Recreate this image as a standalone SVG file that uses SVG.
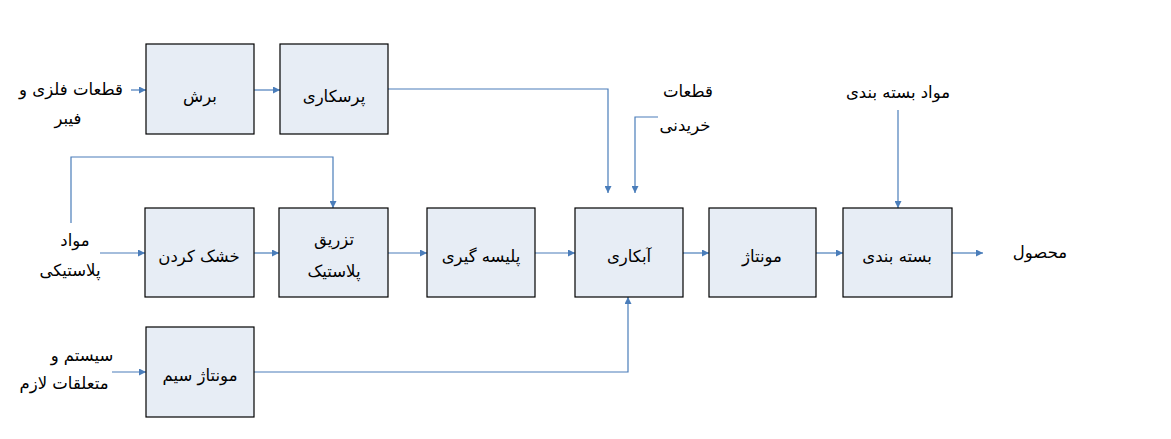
<svg xmlns="http://www.w3.org/2000/svg" width="1171" height="439" viewBox="0 0 1171 439">
<style>
.box{fill:#E7EDF5;stroke:#000;stroke-width:1.2}
.t{font-family:"DejaVu Sans",sans-serif;font-size:16.5px;fill:#000;text-anchor:middle;direction:rtl;dominant-baseline:middle}
.c{fill:none;stroke:#4A7DBA;stroke-width:1.2;marker-end:url(#a)}
</style>
<defs>
<marker id="a" viewBox="0 0 10 10" refX="10" refY="5" markerWidth="7" markerHeight="7" markerUnits="userSpaceOnUse" orient="auto">
<path d="M0,0L10,5L0,10z" fill="#4A7DBA"/>
</marker>
</defs>
<rect width="1171" height="439" fill="#fff"/>
<g id="connectors">
<path class="c" d="M131,90H146"/>
<path class="c" d="M254,90H280"/>
<path class="c" d="M388,89H608V193"/>
<path class="c" d="M658,117H635V193"/>
<path class="c" d="M898,110V208"/>
<path class="c" d="M100,253H145"/>
<path class="c" d="M71,223V157H333V208"/>
<path class="c" d="M254,253H279"/>
<path class="c" d="M388,253H427"/>
<path class="c" d="M535,253H575"/>
<path class="c" d="M683,253H709"/>
<path class="c" d="M816,253H843"/>
<path class="c" d="M952,253H983"/>
<path class="c" d="M112,372H146"/>
<path class="c" d="M254,372H628V297"/>
</g>
<g id="in1"><text class="t" x="71" y="90">قطعات فلزی و</text><text class="t" x="68" y="119">فیبر</text></g>
<g id="in2"><text class="t" x="75" y="241">مواد</text><text class="t" x="70" y="271">پلاستیکی</text></g>
<g id="in3"><text class="t" x="82" y="356">سیستم و</text><text class="t" x="64" y="384">متعلقات لازم</text></g>
<g id="in4"><text class="t" x="688" y="92">قطعات</text><text class="t" x="685" y="126">خریدنی</text></g>
<g id="in5"><text class="t" x="898" y="93">مواد بسته بندی</text></g>
<g id="out"><text class="t" x="1040" y="253">محصول</text></g>
<g id="n1"><rect class="box" x="146" y="44" width="108" height="90"/><text class="t" x="200" y="97">برش</text></g>
<g id="n2"><rect class="box" x="280" y="44" width="108" height="90"/><text class="t" x="334" y="97">پرسکاری</text></g>
<g id="n3"><rect class="box" x="145" y="208" width="109" height="89"/><text class="t" x="199" y="257">خشک کردن</text></g>
<g id="n4"><rect class="box" x="279" y="208" width="109" height="89"/><text class="t" x="334" y="240">تزریق</text><text class="t" x="334" y="272">پلاستیک</text></g>
<g id="n5"><rect class="box" x="427" y="208" width="108" height="89"/><text class="t" x="481" y="257">پلیسه گیری</text></g>
<g id="n6"><rect class="box" x="575" y="208" width="108" height="89"/><text class="t" x="629" y="257">آبکاری</text></g>
<g id="n7"><rect class="box" x="709" y="208" width="107" height="89"/><text class="t" x="762" y="257">مونتاژ</text></g>
<g id="n8"><rect class="box" x="843" y="208" width="109" height="89"/><text class="t" x="897" y="257">بسته بندی</text></g>
<g id="n9"><rect class="box" x="146" y="327" width="108" height="90"/><text class="t" x="200" y="376">مونتاژ سیم</text></g>
</svg>
